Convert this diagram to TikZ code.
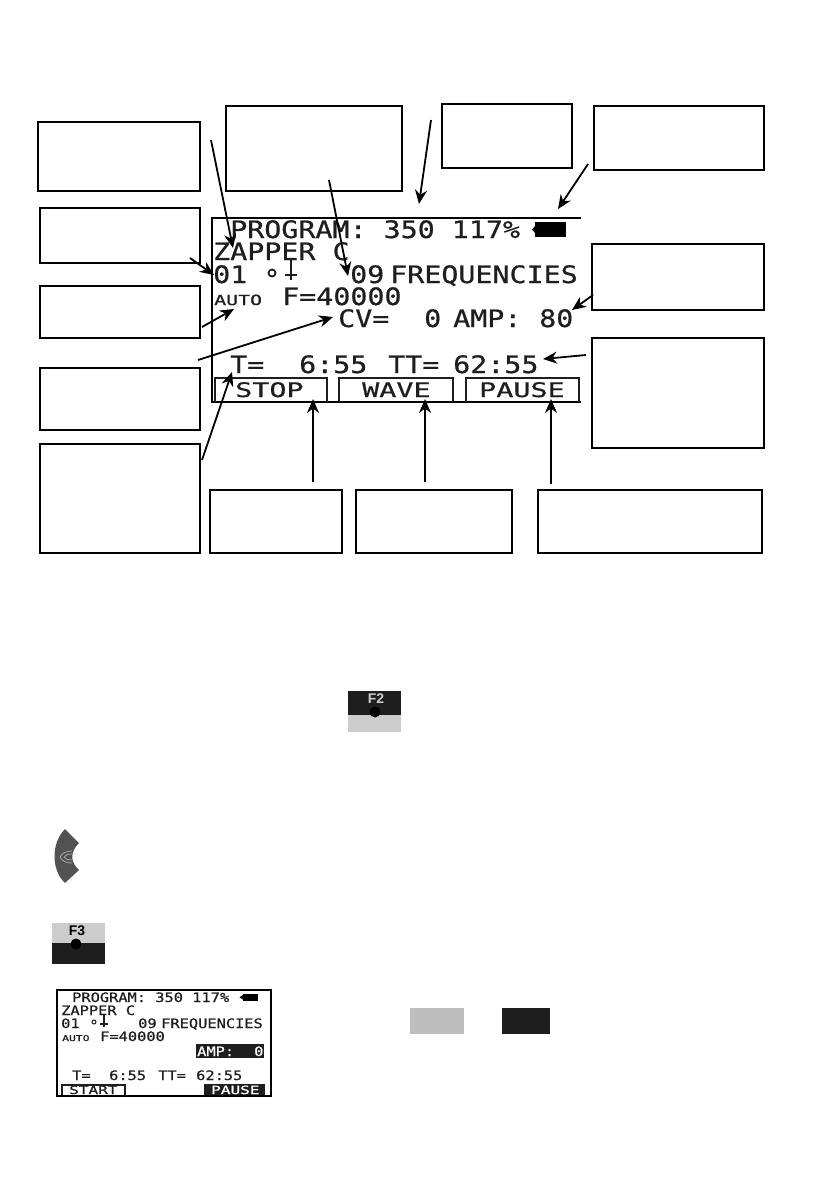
\documentclass[tikz,border=0pt]{standalone}
\usepackage{fontspec}
\usetikzlibrary{arrows.meta}
\newfontfamily\lcdfam[FakeStretch=1.18,FakeBold=0.7]{DejaVu Sans Mono}
\newfontfamily\btnfam[FakeStretch=1.42,FakeBold=0.7]{DejaVu Sans Mono}
\setmainfont{Liberation Sans}
\definecolor{ink}{HTML}{1E1E1E}
\definecolor{keylight}{HTML}{CCCCCC}
\definecolor{swatch}{HTML}{BEBEBE}
\tikzset{
  x=1pt,y=-1pt,
  callout/.style={draw=black,line width=1.5pt,fill=none,inner sep=0pt,outer sep=0pt},
  pointer/.style={draw=black,line width=1.8pt,-{Stealth[length=14pt,width=12pt]}},
  lcdbig/.style={anchor=base west,inner sep=0pt,text=ink,font=\lcdfam\fontsize{24}{24}\selectfont},
  lcdbtn/.style={anchor=base west,inner sep=0pt,text=ink,font=\btnfam\fontsize{20}{20}\selectfont},
  lcdauto/.style={anchor=base west,inner sep=0pt,text=ink,font=\btnfam\fontsize{14}{14}\selectfont},
  lcdsmall/.style={anchor=base west,inner sep=0pt,text=ink,font=\lcdfam\fontsize{13}{13}\selectfont},
  lcdsmallbtn/.style={anchor=base west,inner sep=0pt,text=ink,font=\btnfam\fontsize{11.3}{11.3}\selectfont},
  lcdtiny/.style={anchor=base west,inner sep=0pt,text=ink,font=\btnfam\fontsize{8}{8}\selectfont},
  lcdline/.style={draw=ink,line width=2pt},
  keylabel/.style={inner sep=0pt,font=\bfseries\fontsize{14}{14}\selectfont},
}
\begin{document}
\begin{tikzpicture}
\useasboundingbox (0,0) rectangle (839,1191);
% callout boxes
\node[callout,anchor=north west,minimum width=162pt,minimum height=69pt] (bA) at (38,122) {};
\node[callout,anchor=north west,minimum width=176pt,minimum height=85pt] (bB) at (226,106) {};
\node[callout,anchor=north west,minimum width=130pt,minimum height=64pt] (bC) at (442,104) {};
\node[callout,anchor=north west,minimum width=170pt,minimum height=64pt] (bD) at (594,106) {};
\node[callout,anchor=north west,minimum width=160pt,minimum height=55pt] (bE) at (40,208) {};
\node[callout,anchor=north west,minimum width=160pt,minimum height=52pt] (bF) at (40,286) {};
\node[callout,anchor=north west,minimum width=160pt,minimum height=62pt] (bG) at (40,368) {};
\node[callout,anchor=north west,minimum width=160pt,minimum height=109pt] (bH) at (40,444) {};
\node[callout,anchor=north west,minimum width=172pt,minimum height=66pt] (bI) at (592,244) {};
\node[callout,anchor=north west,minimum width=172pt,minimum height=110pt] (bJ) at (592,338) {};
\node[callout,anchor=north west,minimum width=132pt,minimum height=63pt] (bK) at (210,490) {};
\node[callout,anchor=north west,minimum width=156pt,minimum height=63pt] (bL) at (356,490) {};
\node[callout,anchor=north west,minimum width=224pt,minimum height=63pt] (bM) at (538,490) {};
% main LCD frame
\draw[black,line width=1.8pt] (581,218) -- (212,218) -- (212,402) -- (581,402);
\draw[lcdline] (215,402) -- (215,378) -- (327,378) -- (327,402);
\draw[lcdline] (339,402) -- (339,378) -- (453,378) -- (453,402);
\draw[lcdline] (466,402) -- (466,378) -- (579,378) -- (579,402);
% main LCD text
\node[lcdbig] (t1) at (230,238) {PROGRAM: 350 117\%};
\fill[black] (535,222) rectangle (566,237);
\fill[black] (532,229.5) -- (535,226) -- (535,233) -- cycle;
\node[lcdbig] (t2) at (213,260) {ZAPPER C};
\node[lcdbig] (t3) at (213,283) {01};
\draw[ink,line width=1.8pt] (272,273) circle (3.5);
\draw[ink,line width=2pt] (291,260) -- (291,280) (285,275) -- (297,275);
\node[lcdbig] (t4) at (350,283) {09};
\node[lcdbig] (t5) at (390,283) {FREQUENCIES};
\node[lcdauto] (t6) at (214,305) {AUTO};
\node[lcdbig] (t7) at (282,305) {F=40000};
\node[lcdbig] (t8) at (338,327) {CV=};
\node[lcdbig] (t9) at (424,327) {0};
\node[lcdbig] (t10) at (453,327) {AMP:};
\node[lcdbig] (t11) at (539,327) {80};
\node[lcdbig] (t12) at (230,373) {T=};
\node[lcdbig] (t13) at (299,373) {6:55};
\node[lcdbig] (t14) at (388,373) {TT=};
\node[lcdbig] (t15) at (453,373) {62:55};
\node[lcdbtn] (s1) at (235,397) {STOP};
\node[lcdbtn] (s2) at (362,397) {WAVE};
\node[lcdbtn] (s3) at (479,397) {PAUSE};
% pointers
\coordinate (p1) at (211,140); \coordinate (q1) at (233,248);
\coordinate (p2) at (329,180); \coordinate (q2) at (348,276);
\coordinate (p3) at (431,120); \coordinate (q3) at (419,204);
\coordinate (p4) at (588,164); \coordinate (q4) at (558,209);
\coordinate (p5) at (190,258); \coordinate (q5) at (214,275);
\coordinate (p6) at (202,327); \coordinate (q6) at (234,309);
\coordinate (p7) at (198,360); \coordinate (q7) at (333,317);
\coordinate (p8) at (202,460); \coordinate (q8) at (232,372);
\coordinate (p9) at (313,482); \coordinate (q9) at (313,399);
\coordinate (p10) at (425,482); \coordinate (q10) at (425,399);
\coordinate (p11) at (551,484); \coordinate (q11) at (551,399);
\coordinate (p12) at (593,295); \coordinate (q12) at (572,310);
\coordinate (p13) at (586,355); \coordinate (q13) at (543,359);
\foreach \i in {1,...,13} {\draw[pointer] (p\i) -- (q\i);}
% F2 key
\fill[ink] (348,691) rectangle (401,715);
\fill[keylight] (348,715) rectangle (401,732);
\node[keylabel,text=keylight] (f2) at (376,699) {F2};
\fill[black] (375,712) circle (5.5);
% side arrow key
\fill[black!68] (65,829) -- (79,843) .. controls (70,852) and (70,862) .. (79,870) -- (65,883) .. controls (51,870) and (51,843) .. (65,829) -- cycle;
\draw[black!35,line width=0.8pt] (72,851) .. controls (66,851) and (62,853) .. (60,857) .. controls (62,861) and (66,863) .. (72,863);
\draw[black!35,line width=0.8pt] (72,854) .. controls (68,854) and (65,855) .. (64,857) .. controls (65,859) and (68,860) .. (72,860);
% F3 key
\fill[keylight] (52,923) rectangle (105,943);
\fill[ink] (52,943) rectangle (105,964);
\node[keylabel,text=black] (f3) at (77,931) {F3};
\fill[black] (76,944) circle (5.5);
% thumbnail LCD
\draw[black,line width=2.2pt] (57,990) rectangle (271,1096);
\draw[ink,line width=1.2pt] (62,1095) -- (62,1085) -- (125,1085) -- (125,1095);
\node[lcdsmall] (u1) at (72,1002) {PROGRAM: 350 117\%};
\fill[black] (243,993.5) rectangle (258,1001);
\fill[black] (239.5,997.2) -- (243,995) -- (243,999.5) -- cycle;
\node[lcdsmall] (u2) at (61,1015) {ZAPPER C};
\node[lcdsmall] (u3) at (61,1028) {01};
\draw[ink,line width=1pt] (94,1022) circle (2);
\draw[ink,line width=1.1pt] (104,1015) -- (104,1027) (100,1024) -- (108,1024);
\node[lcdsmall] (u4) at (138,1028) {09};
\node[lcdsmall] (u5) at (161,1028) {FREQUENCIES};
\node[lcdtiny] (u6) at (62,1041) {AUTO};
\node[lcdsmall] (u7) at (100,1041) {F=40000};
\fill[ink] (196,1044) rectangle (264,1058);
\node[lcdsmall,text=white] (u8) at (197,1056) {AMP:};
\node[lcdsmall,text=white] (u9) at (254,1056) {0};
\node[lcdsmall] (u10) at (72,1080) {T=};
\node[lcdsmall] (u11) at (109,1080) {6:55};
\node[lcdsmall] (u12) at (158,1080) {TT=};
\node[lcdsmall] (u13) at (196,1080) {62:55};
\node[lcdsmallbtn] (u14) at (69,1094) {START};
\fill[ink] (204,1084) rectangle (265,1095);
\node[lcdsmallbtn,text=white] (u15) at (211,1094) {PAUSE};
% swatches
\fill[swatch] (410,1008) rectangle (464,1034);
\fill[ink] (502,1008) rectangle (550,1034);
\end{tikzpicture}
\end{document}
